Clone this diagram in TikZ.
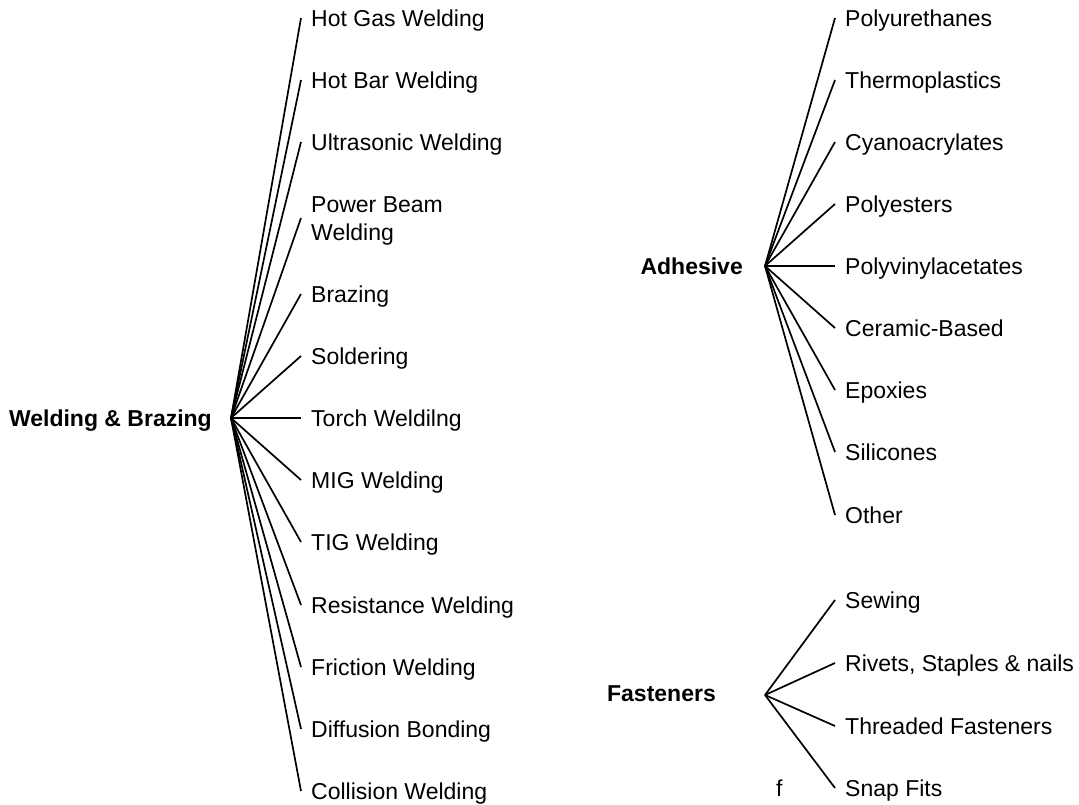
\documentclass[tikz,border=0pt]{standalone}
\usepackage{fontspec}
\setmainfont{Liberation Sans}
\begin{document}
\begin{tikzpicture}[x=1pt,y=-1pt,
  leaf/.style={anchor=west,inner sep=0pt,text height=16.5pt,text depth=0pt,align=left,font=\fontsize{23}{28}\selectfont},
  rootlbl/.style={anchor=east,inner sep=0pt,text height=16.5pt,text depth=0pt,font=\fontsize{23}{28}\selectfont\bfseries},
  branch/.style={line width=1.7pt,line cap=butt}]
\useasboundingbox (0,0) rectangle (1079,805);
% Welding & Brazing
\coordinate (wb) at (231,418);
\node[rootlbl] (wbl) at (212,418) {Welding \& Brazing};
\node[leaf] (l1) at (311,18) {Hot Gas Welding};
\node[leaf] (l2) at (311,80) {Hot Bar Welding};
\node[leaf] (l3) at (311,142) {Ultrasonic Welding};
\node[leaf,text height=44.5pt] (l4) at (311,218) {Power Beam\\Welding};
\node[leaf] (l5) at (311,294) {Brazing};
\node[leaf] (l6) at (311,356) {Soldering};
\node[leaf] (l7) at (311,418) {Torch Weldilng};
\node[leaf] (l8) at (311,480) {MIG Welding};
\node[leaf] (l9) at (311,542) {TIG Welding};
\node[leaf] (l10) at (311,605) {Resistance Welding};
\node[leaf] (l11) at (311,667) {Friction Welding};
\node[leaf] (l12) at (311,729) {Diffusion Bonding};
\node[leaf] (l13) at (311,791) {Collision Welding};
\foreach \i in {1,...,13}{\draw[branch] (wb) -- ([xshift=-10pt]l\i.west);}
% Adhesive
\coordinate (ad) at (765,266);
\node[rootlbl] (adl) at (743,266) {Adhesive};
\node[leaf] (a1) at (845,18) {Polyurethanes};
\node[leaf] (a2) at (845,80) {Thermoplastics};
\node[leaf] (a3) at (845,142) {Cyanoacrylates};
\node[leaf] (a4) at (845,204) {Polyesters};
\node[leaf] (a5) at (845,266) {Polyvinylacetates};
\node[leaf] (a6) at (845,328) {Ceramic-Based};
\node[leaf] (a7) at (845,390) {Epoxies};
\node[leaf] (a8) at (845,452) {Silicones};
\node[leaf] (a9) at (845,515) {Other};
\foreach \i in {1,...,9}{\draw[branch] (ad) -- ([xshift=-10pt]a\i.west);}
% Fasteners
\coordinate (fa) at (765,695);
\node[rootlbl] (fal) at (716,693) {Fasteners};
\node[leaf] (f1) at (845,600) {Sewing};
\node[leaf] (f2) at (845,663) {Rivets, Staples \& nails};
\node[leaf] (f3) at (845,726) {Threaded Fasteners};
\node[leaf] (f4) at (845,788) {Snap Fits};
\foreach \i in {1,...,4}{\draw[branch] (fa) -- ([xshift=-10pt]f\i.west);}
\node[leaf] (fx) at (776,788) {f};
\end{tikzpicture}
\end{document}
